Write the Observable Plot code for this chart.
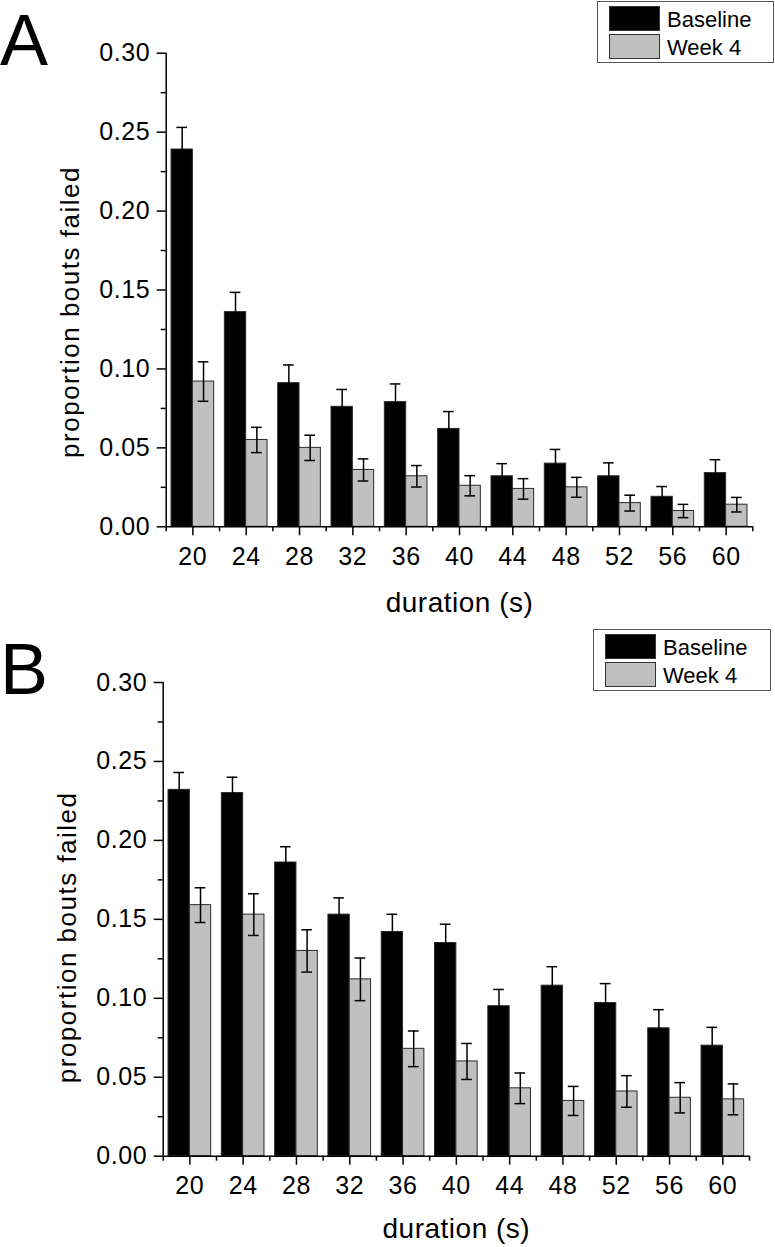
<!DOCTYPE html>
<html>
<head>
<meta charset="utf-8">
<script src="https://cdn.jsdelivr.net/npm/d3@7"></script>
<script src="https://cdn.jsdelivr.net/npm/@observablehq/plot@0.6"></script>
<style>
  body { margin: 0; background: #fff; }
  #root { position: relative; width: 775px; height: 1247px; overflow: hidden;
          font-family: "Liberation Sans", Arial, sans-serif; color: #000; }
  .panel { position: absolute; left: 0; }
  .letter { position: absolute; left: 0; font-size: 72px; line-height: 72px; }
  .legend { position: absolute; border: 1px solid #555; background: #fff; box-sizing: border-box; }
  .sw { position: absolute; box-sizing: border-box; border: 1px solid #333; }
  .lt { position: absolute; font-size: 22px; line-height: 22px; white-space: nowrap; }
</style>
</head>
<body>
<div id="root"></div>
<script>
// ---------- data ----------
const durations = [20, 24, 28, 32, 36, 40, 44, 48, 52, 56, 60];
const seriesNames = ["Baseline", "Week 4"];
const seriesColors = ["#000000", "#c0c0c0"];
const panelLetters = ["A", "B"];
const xTitle = "duration (s)";
const yTitle = "proportion bouts failed";
const yMajorTicks = [0, 0.05, 0.10, 0.15, 0.20, 0.25, 0.30];
const yMinorTicks = [0.025, 0.075, 0.125, 0.175, 0.225, 0.275];
const xMinorTicks = [18, 22, 26, 30, 34, 38, 42, 46, 50, 54, 58, 62];

// Panel A
const baselineA    = [0.239, 0.136, 0.091, 0.076, 0.079, 0.062, 0.032, 0.040, 0.032, 0.019, 0.034];
const baselineAErr = [0.014, 0.0125, 0.0115, 0.011, 0.0115, 0.011, 0.008, 0.009, 0.0085, 0.0065, 0.0085];
const week4A       = [0.092, 0.055, 0.050, 0.036, 0.032, 0.026, 0.024, 0.025, 0.015, 0.010, 0.014];
const week4AErr    = [0.0125, 0.008, 0.008, 0.007, 0.0068, 0.0064, 0.0065, 0.0063, 0.005, 0.0042, 0.0046];

// Panel B
const baselineB    = [0.232, 0.230, 0.186, 0.153, 0.142, 0.135, 0.095, 0.108, 0.097, 0.081, 0.070];
const baselineBErr = [0.011, 0.010, 0.010, 0.0106, 0.0112, 0.0119, 0.0106, 0.012, 0.0123, 0.0118, 0.0116];
const week4B       = [0.159, 0.153, 0.130, 0.112, 0.068, 0.060, 0.043, 0.035, 0.041, 0.037, 0.036];
const week4BErr    = [0.011, 0.0132, 0.0134, 0.0135, 0.0113, 0.0114, 0.0097, 0.0092, 0.010, 0.0096, 0.0098];

// ---------- build ----------
const xDomain = [18, 62];
const barW = 1.6;   // bar width in duration units
const capHalf = 0.4;

function rowsFor(base, baseErr, wk, wkErr) {
  return durations.flatMap((d, i) => [
    {duration: d, series: seriesNames[0], value: base[i], err: baseErr[i]},
    {duration: d, series: seriesNames[1], value: wk[i], err: wkErr[i]}
  ]);
}
const left = d => d.series === seriesNames[0] ? d.duration - barW : d.duration;
const right = d => d.series === seriesNames[0] ? d.duration : d.duration + barW;
const center = d => d.series === seriesNames[0] ? d.duration - barW / 2 : d.duration + barW / 2;

function makePanel(rows, m) {
  const svg = Plot.plot({
    width: 775,
    height: m.height,
    marginTop: m.top, marginBottom: m.bottom, marginLeft: m.left, marginRight: m.right,
    style: {fontFamily: '"Liberation Sans", Arial, sans-serif', background: "transparent", overflow: "visible", color: "#000"},
    x: {type: "linear", domain: xDomain},
    y: {type: "linear", domain: [0, 0.30]},
    color: {domain: seriesNames, range: seriesColors},
    marks: [
      Plot.rect(rows, {x1: left, x2: right, y1: 0, y2: "value", fill: "series", stroke: "#2a2a2a", strokeWidth: 1}),
      Plot.ruleX(rows, {x: center, y1: d => d.value - d.err, y2: d => d.value + d.err, stroke: "#000", strokeWidth: 1.5}),
      Plot.ruleY(rows, {y: d => d.value + d.err, x1: d => center(d) - capHalf, x2: d => center(d) + capHalf, stroke: "#000", strokeWidth: 1.5}),
      Plot.ruleY(rows, {y: d => d.value - d.err, x1: d => center(d) - capHalf, x2: d => center(d) + capHalf, stroke: "#000", strokeWidth: 1.5}),
      Plot.ruleY([0], {stroke: "#000", strokeWidth: 1.5}),
      Plot.ruleX([xDomain[0]], {stroke: "#000", strokeWidth: 1.5}),
      Plot.axisX(durations, {tickSize: 9, tickPadding: 11, fontSize: 25, strokeWidth: 1.5, tickFormat: d => String(d), label: null}),
      Plot.axisX(xMinorTicks, {tickSize: 5, strokeWidth: 1.5, tickFormat: () => "", label: null}),
      Plot.axisY(yMajorTicks, {tickSize: 9, tickPadding: 7, fontSize: 25, strokeWidth: 1.5, tickFormat: d3.format(".2f"), label: null}),
      Plot.axisY(yMinorTicks, {tickSize: 5, strokeWidth: 1.5, tickFormat: () => "", label: null}),
      Plot.text([xTitle], {text: d => d, frameAnchor: "bottom", textAnchor: "middle", lineAnchor: "middle", dy: m.xTitleDy, fontSize: 28}),
      Plot.text([yTitle], {text: d => d, frameAnchor: "left", textAnchor: "middle", lineAnchor: "middle", rotate: -90, dx: -95.4, dy: m.yTitleDy, fontSize: 26})
    ]
  });
  const s = d3.select(svg);
  s.selectAll("text").each(function() {
    const t = this.textContent;
    if (t === yTitle) this.style.letterSpacing = "1.5px";
    else if (t === xTitle) this.style.letterSpacing = "0.5px";
    else if (/^[0-9.]+$/.test(t)) this.style.letterSpacing = "0.6px";
  });
  return svg;
}

const root = d3.select("#root");
const panels = [
  {rows: rowsFor(baselineA, baselineAErr, week4A, week4AErr), top: 0,
   m: {height: 620, top: 52.7, bottom: 93.7, left: 165.7, right: 22.7, xTitleDy: 76.7, yTitleDy: 22},
   letterTop: 4, legend: {left: 597, top: 1, w: 177, h: 62}},
  {rows: rowsFor(baselineB, baselineBErr, week4B, week4BErr), top: 620,
   m: {height: 627, top: 62, bottom: 91.3, left: 162.7, right: 26, xTitleDy: 73.3, yTitleDy: 18},
   letterTop: 633, legend: {left: 593, top: 629, w: 178, h: 62}}
];

panels.forEach((p, k) => {
  const svg = makePanel(p.rows, p.m);
  const holder = root.append("div").attr("class", "panel").style("top", p.top + "px");
  holder.node().appendChild(svg);

  root.append("div").attr("class", "letter").style("top", p.letterTop + "px").text(panelLetters[k]);

  const lg = root.append("div").attr("class", "legend")
    .style("left", p.legend.left + "px").style("top", p.legend.top + "px")
    .style("width", p.legend.w + "px").style("height", p.legend.h + "px");
  seriesNames.forEach((name, i) => {
    lg.append("div").attr("class", "sw")
      .style("left", "11px").style("top", (4 + i * 28) + "px")
      .style("width", "51px").style("height", "25px")
      .style("background", seriesColors[i]);
    lg.append("div").attr("class", "lt")
      .style("left", "69px").style("top", (7 + i * 27.5) + "px")
      .text(name);
  });
});
</script>
</body>
</html>
